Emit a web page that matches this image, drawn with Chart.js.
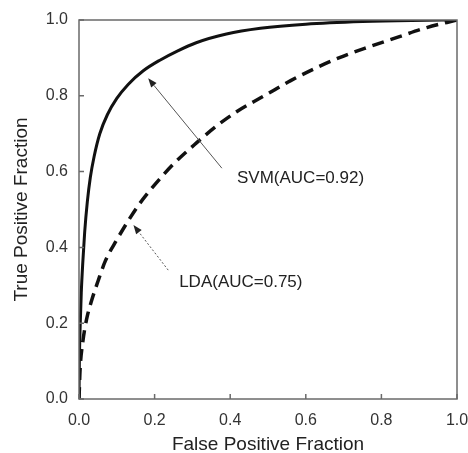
<!DOCTYPE html>
<html>
<head>
<meta charset="utf-8">
<script src="https://cdn.jsdelivr.net/npm/chart.js@4.4.1/dist/chart.umd.min.js"></script>
<style>
  html, body { margin: 0; padding: 0; background: #fff; }
  #wrap { width: 468px; height: 453px; }
</style>
</head>
<body>
<div id="wrap"><canvas id="roc"></canvas></div>
<script>
// ROC curves
const svmFpf = [0, 0.001, 0.003, 0.006, 0.010, 0.015, 0.022, 0.030, 0.040, 0.055, 0.075, 0.10, 0.13, 0.17, 0.214, 0.26, 0.31, 0.39, 0.48, 0.60, 0.75, 0.88, 1];
const svmTpf = [0, 0.10, 0.19, 0.28, 0.36, 0.44, 0.52, 0.585, 0.64, 0.70, 0.75, 0.793, 0.83, 0.866, 0.894, 0.918, 0.940, 0.963, 0.978, 0.989, 0.996, 0.999, 1];

const ldaFpf = [0, 0.003, 0.010, 0.020, 0.035, 0.05, 0.07, 0.10, 0.13, 0.16, 0.20, 0.25, 0.31, 0.37, 0.42, 0.49, 0.56, 0.63, 0.70, 0.77, 0.85, 0.92, 1];
const ldaTpf = [0, 0.08, 0.15, 0.21, 0.265, 0.31, 0.365, 0.42, 0.47, 0.515, 0.565, 0.62, 0.675, 0.725, 0.76, 0.80, 0.84, 0.875, 0.905, 0.93, 0.957, 0.98, 1];

const tickValues = [0, 0.2, 0.4, 0.6, 0.8, 1.0];

// annotations in data units: [arrow tip x, tip y, tail x, tail y, text x, text y]
const svmLabel = 'SVM(AUC=0.92)';
const svmNote = [0.183, 0.846, 0.378, 0.609, 0.418, 0.583];
const ldaLabel = 'LDA(AUC=0.75)';
const ldaNote = [0.144, 0.459, 0.236, 0.340, 0.265, 0.309];

const FONT = 'Liberation Sans, Arial, sans-serif';

function toPoints(xs, ys) {
  return xs.map((x, i) => ({ x: x, y: ys[i] }));
}

const framePlugin = {
  id: 'frame',
  afterDatasetsDraw(chart) {
    const ctx = chart.ctx;
    const a = chart.chartArea;
    const xs = chart.scales.x, ys = chart.scales.y;
    ctx.save();
    // box
    ctx.strokeStyle = '#6a6a6a';
    ctx.lineWidth = 1.5;
    ctx.strokeRect(a.left, a.top, a.right - a.left, a.bottom - a.top);
    // inward ticks
    ctx.beginPath();
    tickValues.forEach(v => {
      const px = xs.getPixelForValue(v);
      ctx.moveTo(px, a.bottom);
      ctx.lineTo(px, a.bottom - 5);
      const py = ys.getPixelForValue(v);
      ctx.moveTo(a.left, py);
      ctx.lineTo(a.left + 5, py);
    });
    ctx.stroke();

    function note(n, label, dashed) {
      const tx = xs.getPixelForValue(n[0]), ty = ys.getPixelForValue(n[1]);
      const sx = xs.getPixelForValue(n[2]), sy = ys.getPixelForValue(n[3]);
      const ang = Math.atan2(ty - sy, tx - sx);
      const head = 9, half = 3.5;
      const bx = tx - head * Math.cos(ang), by = ty - head * Math.sin(ang);
      ctx.strokeStyle = '#555';
      ctx.lineWidth = 1;
      ctx.setLineDash(dashed ? [2, 2] : []);
      ctx.beginPath();
      ctx.moveTo(sx, sy);
      ctx.lineTo(bx, by);
      ctx.stroke();
      ctx.setLineDash([]);
      ctx.fillStyle = '#222';
      ctx.beginPath();
      ctx.moveTo(tx, ty);
      ctx.lineTo(bx + half * Math.sin(ang), by - half * Math.cos(ang));
      ctx.lineTo(bx - half * Math.sin(ang), by + half * Math.cos(ang));
      ctx.closePath();
      ctx.fill();
      ctx.font = '17px ' + FONT;
      ctx.textAlign = 'left';
      ctx.textBaseline = 'middle';
      ctx.fillStyle = '#222';
      ctx.fillText(label, xs.getPixelForValue(n[4]), ys.getPixelForValue(n[5]));
    }
    note(svmNote, svmLabel, false);
    note(ldaNote, ldaLabel, true);
    ctx.restore();
  }
};

new Chart(document.getElementById('roc'), {
  type: 'scatter',
  data: {
    datasets: [
      {
        label: 'SVM',
        data: toPoints(svmFpf, svmTpf),
        showLine: true,
        borderColor: '#111',
        borderWidth: 3,
        pointRadius: 0,
        cubicInterpolationMode: 'monotone'
      },
      {
        label: 'LDA',
        data: toPoints(ldaFpf, ldaTpf),
        showLine: true,
        borderColor: '#111',
        borderWidth: 3.5,
        borderDash: [12, 7],
        pointRadius: 0,
        cubicInterpolationMode: 'monotone'
      }
    ]
  },
  options: {
    responsive: true,
    maintainAspectRatio: false,
    animation: false,
    layout: { padding: { top: 20, right: 11, left: 0, bottom: 0 } },
    plugins: { legend: { display: false }, tooltip: { enabled: false } },
    scales: {
      x: {
        type: 'linear', min: 0, max: 1,
        afterFit: s => { s.height = 54; s.paddingLeft = 0; s.paddingRight = 0; },
        afterBuildTicks: s => { s.ticks = tickValues.map(v => ({ value: v })); },
        grid: { display: false, drawTicks: false },
        border: { display: false },
        ticks: {
          padding: 12,
          color: '#333',
          font: { family: FONT, size: 16 },
          callback: v => v.toFixed(1)
        },
        title: {
          display: true,
          text: 'False Positive Fraction',
          color: '#222',
          font: { family: FONT, size: 19 },
          padding: { top: 0, bottom: -3 }
        }
      },
      y: {
        type: 'linear', min: 0, max: 1,
        afterFit: s => { s.width = 79; s.paddingTop = 0; s.paddingBottom = 0; },
        afterBuildTicks: s => { s.ticks = tickValues.map(v => ({ value: v })); },
        grid: { display: false, drawTicks: false },
        border: { display: false },
        ticks: {
          padding: 11,
          color: '#333',
          font: { family: FONT, size: 16 },
          callback: v => v.toFixed(1)
        },
        title: {
          display: true,
          text: 'True Positive Fraction',
          color: '#222',
          font: { family: FONT, size: 19 },
          padding: { top: 10, bottom: 0 }
        }
      }
    }
  },
  plugins: [framePlugin]
});
</script>
</body>
</html>
